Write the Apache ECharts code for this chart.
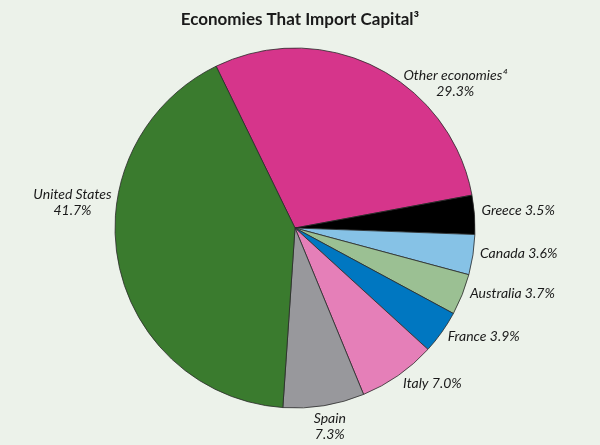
<!DOCTYPE html>
<html>
<head>
<meta charset="utf-8">
<script src="https://cdn.jsdelivr.net/npm/echarts@6/dist/echarts.min.js"></script>
<style>
html,body{margin:0;padding:0;background:#ecf2ea;}
#chart{width:600px;height:445px;}
</style>
</head>
<body>
<div id="chart"></div>
<script>
const categories = ['Other economies⁴', 'Greece', 'Canada', 'Australia', 'France', 'Italy', 'Spain', 'United States'];
const values = [29.3, 3.5, 3.6, 3.7, 3.9, 7.0, 7.3, 41.7];
const colors = ['#d6358b', '#000000', '#86c2e6', '#9bc093', '#0077c1', '#e57fb8', '#98989c', '#3a7b2e'];
const multiLine = [true, false, false, false, false, false, true, true];
// label nudges (dx, dy) and alignment
const labelShift = [[72, 21, 'center'], [-3, -4, null], [-3, -2, null], [-2, -3, null], [-3, 1, null], [-3, 4, null], [0, 16, 'center'], [-36, -61, 'center']];

const chart = echarts.init(document.getElementById('chart'));
chart.setOption({
  backgroundColor: '#ecf2ea',
  title: {
    text: 'Economies That Import Capital³',
    left: 'center',
    top: 6,
    textStyle: {fontFamily: 'Lato', fontWeight: 'bold', fontSize: 17, color: '#1a1a1a'}
  },
  series: [{
    type: 'pie',
    center: [295, 228],
    radius: 180,
    startAngle: 116,
    clockwise: true,
    animation: false,
    avoidLabelOverlap: false,
    itemStyle: {borderColor: '#2a2a2a', borderWidth: 0.8},
    label: {
      show: true,
      position: 'outside',
      fontFamily: 'Lato',
      fontStyle: 'italic',
      fontSize: 14,
      lineHeight: 16,
      color: '#1a1a1a',
      distanceToLabelLine: 5,
      formatter: function (p) {
        return multiLine[p.dataIndex] ? p.name + '\n' + p.value.toFixed(1) + '%' : p.name + ' ' + p.value.toFixed(1) + '%';
      }
    },
    labelLine: {show: false, length: 5, length2: 0},
    labelLayout: function (p) {
      const s = labelShift[p.dataIndex];
      const o = {dx: s[0], dy: s[1]};
      if (s[2]) o.align = s[2];
      return o;
    },
    emphasis: {disabled: true},
    data: categories.map((c, i) => ({name: c, value: values[i], itemStyle: {color: colors[i]}}))
  }]
});
</script>
</body>
</html>
